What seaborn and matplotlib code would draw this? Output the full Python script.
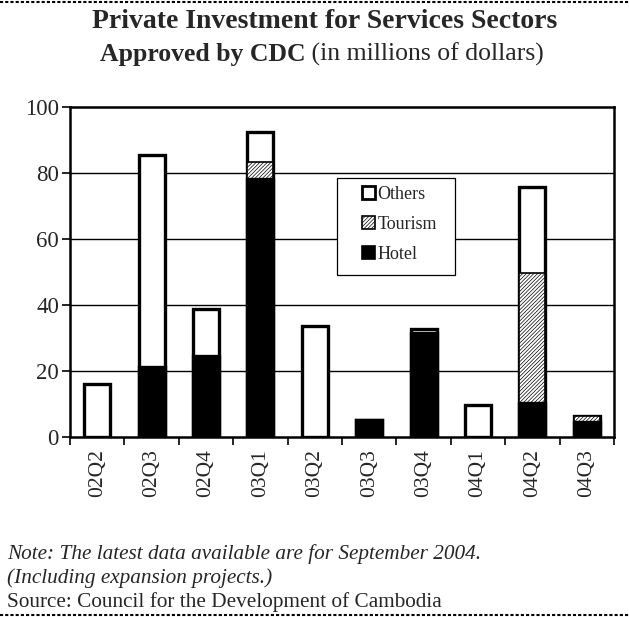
import matplotlib
matplotlib.use("Agg")
import matplotlib.pyplot as plt
import seaborn as sns
import pandas as pd
import numpy as np
from matplotlib.patches import Patch, Rectangle
from matplotlib.lines import Line2D

quarters = ["02Q2", "02Q3", "02Q4", "03Q1", "03Q2", "03Q3", "03Q4", "04Q1", "04Q2", "04Q3"]
hotel = [0, 21.2, 24.5, 78.0, 0, 5.1, 31.5, 0, 10.3, 4.4]
tourism = [0, 0, 0, 5.1, 0, 0, 0, 0, 39.2, 2.0]
others = [15.9, 64.2, 14.2, 9.3, 33.6, 0, 1.1, 9.6, 26.3, 0]
yticks = [0, 20, 40, 60, 80, 100]

sns.set_theme(style="white")
plt.rcParams["font.family"] = ["Liberation Serif", "DejaVu Serif"]
plt.rcParams["hatch.linewidth"] = 0.5

df = pd.DataFrame({"quarter": quarters, "hotel": hotel, "tourism": tourism, "others": others})
df["ht"] = df["hotel"] + df["tourism"]
df["total"] = df["ht"] + df["others"]

W, H = 629, 617
fig = plt.figure(figsize=(W / 100, H / 100), dpi=100)
ax = fig.add_axes([70 / W, 1 - 436.7 / H, 544 / W, 330 / H])

sns.barplot(data=df, x="quarter", y="total", color="white", edgecolor="black",
            linewidth=2.4, width=0.48, ax=ax, saturation=1, zorder=3)
sns.barplot(data=df[df["tourism"] > 0], x="quarter", y="ht", order=quarters, color="white",
            edgecolor="black", hatch="/////////", linewidth=1.2, width=0.48, ax=ax,
            saturation=1, zorder=4)
sns.barplot(data=df[df["hotel"] > 0], x="quarter", y="hotel", order=quarters, color="black",
            edgecolor="black", linewidth=2.4, width=0.48, ax=ax, saturation=1, zorder=5)

ax.set_ylim(0, 100)
ax.set_xlim(-0.5, len(quarters) - 0.5)
ax.set_yticks(yticks)
ax.set_yticklabels([str(v) for v in yticks], fontsize=16.5)
ax.set_xticks(range(len(quarters)))
ax.set_xticklabels(quarters, rotation=90, fontsize=15.5)
ax.tick_params(axis="x", length=0, pad=9)
ax.tick_params(axis="y", length=6, width=1.2, direction="out", left=True, pad=2, color="black")
ax.set_xlabel("")
ax.set_ylabel("")
for v in yticks[1:-1]:
    ax.axhline(v, color="black", linewidth=1.0, zorder=1)
ax.set_xticks(np.arange(-0.5, len(quarters), 1.0), minor=True)
ax.tick_params(axis="x", which="minor", length=6, width=1.2, bottom=True, color="black")
for s in ax.spines.values():
    s.set_visible(True)
    s.set_color("black")
    s.set_linewidth(1.8)

# legend frame
ax.add_patch(Rectangle(((337 - 70) / 544, (436.7 - 275) / 330), 118 / 544, 97 / 330,
                       transform=ax.transAxes, facecolor="white", edgecolor="black",
                       linewidth=0.9, zorder=9))
handles = [
    Patch(facecolor="white", edgecolor="black", linewidth=2.0, label="Others"),
    Patch(facecolor="white", edgecolor="black", hatch="/////////", linewidth=1.2, label="Tourism"),
    Patch(facecolor="black", edgecolor="black", linewidth=1.2, label="Hotel"),
]
leg = ax.legend(handles=handles, loc="upper left",
                bbox_to_anchor=((362 - 70) / 544, (436.7 - 186) / 330),
                fontsize=13, frameon=False, borderpad=0, borderaxespad=0,
                handlelength=0.7, handleheight=0.7, handletextpad=0.15,
                labelspacing=0.72)
leg.set_zorder(10)

fig.text(325 / W, 1 - 22 / H, "Private Investment for Services Sectors", ha="center",
         va="center", fontsize=20, fontweight="bold")
tb = fig.text(0, 1 - 54 / H, "Approved by CDC", ha="left", va="center",
              fontsize=18.5, fontweight="bold")
tr = fig.text(0, 1 - 54 / H, " (in millions of dollars)", ha="left", va="center", fontsize=18.5)
fig.canvas.draw()
r = fig.canvas.get_renderer()
wb = tb.get_window_extent(r).width
wr = tr.get_window_extent(r).width
x0 = 322 - (wb + wr) / 2
tb.set_x(x0 / W)
tr.set_x((x0 + wb) / W)

fig.text(7 / W, 1 - 554 / H, "Note: The latest data available are for September 2004.",
         ha="left", va="center", fontsize=15.3, style="italic")
fig.text(7 / W, 1 - 578 / H, "(Including expansion projects.)",
         ha="left", va="center", fontsize=15.3, style="italic")
fig.text(7 / W, 1 - 602 / H, "Source: Council for the Development of Cambodia",
         ha="left", va="center", fontsize=15.3)

for yy in (2, 615):
    fig.add_artist(Line2D([0, 1], [1 - yy / H, 1 - yy / H], color="black", linewidth=1.5,
                          linestyle=(0, (1.5, 1)), transform=fig.transFigure))

fig.savefig("out.png", dpi=100, facecolor="white")
